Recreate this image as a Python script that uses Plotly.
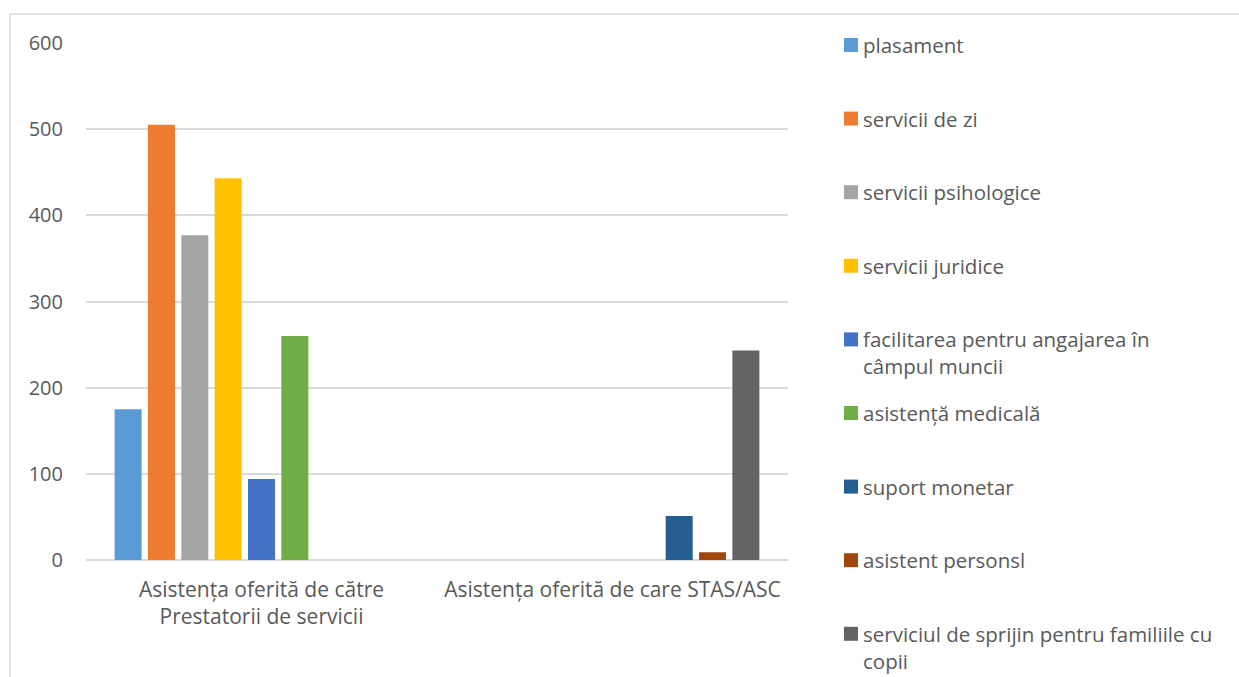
import plotly.graph_objects as go

categories = ["Asistența oferită de către<br>Prestatorii de servicii", "Asistența oferită de care STAS/ASC"]
series_names = [
    "plasament",
    "servicii de zi",
    "servicii psihologice",
    "servicii juridice",
    "facilitarea pentru angajarea în<br>câmpul muncii",
    "asistență medicală",
    "suport monetar",
    "asistent personsl",
    "serviciul de sprijin pentru familiile cu<br>copii",
]
series_values = [
    [175, None],
    [505, None],
    [377, None],
    [443, None],
    [94, None],
    [260, None],
    [None, 51],
    [None, 9],
    [None, 243],
]
colors = ["#5B9BD5", "#ED7D31", "#A5A5A5", "#FFC000", "#4472C4", "#70AD47",
          "#255E91", "#9E480E", "#636363"]
y_ticks = [0, 100, 200, 300, 400, 500, 600]

FONT = "Open Sans"
TXT = "#595959"
LEG_SIZE = 20.5

fig = go.Figure()
for name, vals, col in zip(series_names, series_values, colors):
    fig.add_trace(go.Bar(x=categories, y=vals, name=name, marker_color=col,
                         marker_line_width=0, showlegend=False))

W, H = 1239, 677
L, R, T, B = 86, 451, 43, 117
pw, ph = W - L - R, H - T - B

def px_x(x):
    return (x - L) / pw

def px_y(y):
    return (H - B - y) / ph

border = dict(color="#D9D9D9", width=1.5)
shapes = [
    dict(type="line", xref="paper", yref="paper", x0=px_x(10), x1=px_x(10),
         y0=px_y(14), y1=px_y(700), line=border, layer="below"),
    dict(type="line", xref="paper", yref="paper", x0=px_x(10), x1=px_x(1260),
         y0=px_y(14), y1=px_y(14), line=border, layer="below"),
]
annotations = []
spacing = 73.6
for i, (name, col) in enumerate(zip(series_names, colors)):
    yc = 45 + i * spacing
    shapes.append(dict(type="rect", xref="paper", yref="paper",
                       x0=px_x(844), x1=px_x(858), y0=px_y(yc - 7), y1=px_y(yc + 7),
                       fillcolor=col, line_width=0))
    annotations.append(dict(xref="paper", yref="paper", x=px_x(861), y=px_y(yc - 16),
                            xanchor="left", yanchor="top", align="left", showarrow=False,
                            text=name, font=dict(family=FONT, size=LEG_SIZE, color=TXT)))

fig.update_layout(
    width=W, height=H,
    margin=dict(l=L, r=R, t=T, b=B),
    paper_bgcolor="white", plot_bgcolor="white",
    barmode="group", bargap=0.145, bargroupgap=0.19,
    font=dict(family=FONT, size=20, color=TXT),
    shapes=shapes, annotations=annotations,
    xaxis=dict(showgrid=False, showline=False, ticks="", ticklabelstandoff=15,
               tickfont=dict(size=21, color=TXT)),
    yaxis=dict(range=[0, 600], tickvals=y_ticks, showgrid=True, gridcolor="#D9D9D9",
               gridwidth=1.5, zeroline=True, zerolinecolor="#D9D9D9", zerolinewidth=1.5,
               showline=False, ticks="", ticklabelstandoff=22, tickfont=dict(size=20, color=TXT)),
)

fig.write_html("out.html", config={"displayModeBar": False},
               post_script="document.body.style.margin='0';document.body.style.overflow='hidden';")
